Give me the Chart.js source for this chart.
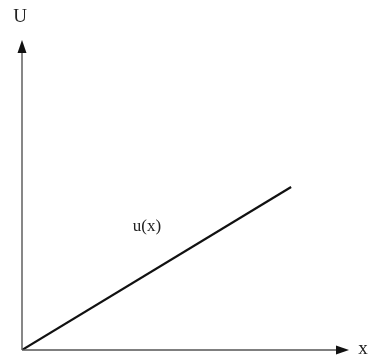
<!DOCTYPE html>
<html><head><meta charset="utf-8">
<script src="https://cdn.jsdelivr.net/npm/chart.js@4/dist/chart.umd.min.js"></script>
<style>html,body{margin:0;padding:0;background:#fff}#wrap{width:368px;height:356px;position:relative}</style>
</head><body><div id="wrap"><canvas id="c"></canvas></div>
<script>
const xValues = [0, 8.23];
const uValues = [0, 5.26];
const axisLabels = ['x', 'U'];
const curveLabel = 'u(x)';

const axesPlugin = {
  id: 'axesArrows',
  afterDraw(chart) {
    const ctx = chart.ctx, a = chart.chartArea;
    const L = a.left, B = a.bottom, T = a.top, R = a.right;
    ctx.save();
    ctx.strokeStyle = '#555';
    ctx.lineWidth = 1.4;
    ctx.beginPath();
    ctx.moveTo(L, B); ctx.lineTo(L, T + 10);
    ctx.moveTo(L, B); ctx.lineTo(R - 10, B);
    ctx.stroke();
    ctx.fillStyle = '#111';
    ctx.beginPath();
    ctx.moveTo(L, T); ctx.lineTo(L - 4.5, T + 13); ctx.lineTo(L + 4.5, T + 13); ctx.closePath(); ctx.fill();
    ctx.beginPath();
    ctx.moveTo(R, B); ctx.lineTo(R - 13, B - 4.5); ctx.lineTo(R - 13, B + 4.5); ctx.closePath(); ctx.fill();
    ctx.fillStyle = '#222';
    ctx.font = '19px "Liberation Serif", "DejaVu Serif", serif';
    ctx.textAlign = 'center'; ctx.textBaseline = 'middle';
    ctx.fillText(axisLabels[1], L - 2, T - 23);
    ctx.fillText(axisLabels[0], R + 14, B - 1);
    const xs = chart.scales.x, ys = chart.scales.y;
    ctx.font = '17px "Liberation Serif", "DejaVu Serif", serif';
    ctx.fillText(curveLabel, xs.getPixelForValue(3.82), ys.getPixelForValue(3.97));
    ctx.restore();
  }
};

new Chart(document.getElementById('c'), {
  type: 'line',
  data: {
    datasets: [{
      data: xValues.map((x, i) => ({x: x, y: uValues[i]})),
      borderColor: '#111',
      borderWidth: 2.2,
      pointRadius: 0,
      fill: false,
      tension: 0
    }]
  },
  options: {
    responsive: true,
    maintainAspectRatio: false,
    animation: false,
    layout: { padding: { left: 22, right: 19, top: 40, bottom: 6 } },
    plugins: { legend: { display: false }, tooltip: { enabled: false } },
    scales: {
      x: { type: 'linear', min: 0, max: 10, display: false },
      y: { type: 'linear', min: 0, max: 10, display: false }
    }
  },
  plugins: [axesPlugin]
});
</script></body></html>
